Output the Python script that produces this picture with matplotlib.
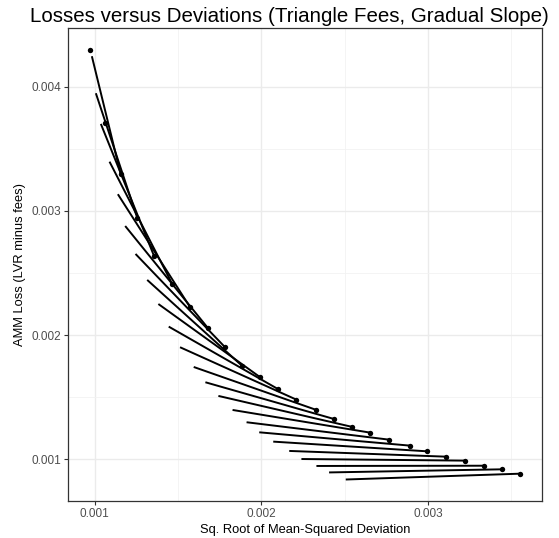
import numpy as np
import matplotlib.pyplot as plt

plt.rcParams["font.family"] = ["Liberation Sans", "DejaVu Sans"]

# points on the curve
dev = [0.000970, 0.001063, 0.001157, 0.001256, 0.001357, 0.001465, 0.001571,
       0.001681, 0.001783, 0.001886, 0.001994, 0.002102, 0.002211, 0.002331,
       0.002437, 0.002547, 0.002655, 0.002766, 0.002890, 0.002994, 0.003106,
       0.003220, 0.003335, 0.003443, 0.003555]
loss = [0.004296, 0.003708, 0.003295, 0.002945, 0.002637, 0.002414, 0.002229,
        0.002055, 0.001902, 0.001751, 0.001660, 0.001564, 0.001480, 0.001397,
        0.001324, 0.001260, 0.001214, 0.001158, 0.001110, 0.001064, 0.001021,
        0.000989, 0.000948, 0.000919, 0.000884]

# segment start points (each ends at the curve point two steps further on)
seg_dev = [0.000984, 0.001008, 0.001038, 0.001090, 0.001140, 0.001184, 0.001246,
           0.001316, 0.001383, 0.001445, 0.001513, 0.001595, 0.001665, 0.001743,
           0.001828, 0.001912, 0.001988, 0.002072, 0.002168, 0.002241, 0.002331,
           0.002407, 0.002507]
seg_loss = [0.004245, 0.003947, 0.003700, 0.003396, 0.003134, 0.002878, 0.002653,
            0.002444, 0.002250, 0.002068, 0.001902, 0.001743, 0.001620, 0.001510,
            0.001397, 0.001298, 0.001217, 0.001142, 0.001067, 0.001002, 0.000946,
            0.000894, 0.000837]

x_ticks = [0.001, 0.002, 0.003]
y_ticks = [0.001, 0.002, 0.003, 0.004]
x_minor = [0.0015, 0.0025, 0.0035]
y_minor = [0.0015, 0.0025, 0.0035]

fig = plt.figure(figsize=(5.59, 5.38), dpi=100)
ax = fig.add_axes([0.1216, 0.0688, 0.8480, 0.8784])

for i in range(len(seg_dev)):
    ax.plot([seg_dev[i], dev[i + 2]], [seg_loss[i], loss[i + 2]],
            color="black", lw=1.4, solid_capstyle="butt", zorder=3)
ax.scatter(dev, loss, s=15, color="black", zorder=4, linewidths=0)

all_x = dev + seg_dev
all_y = loss + seg_loss
xr = max(all_x) - min(all_x)
yr = max(all_y) - min(all_y)
ax.set_xlim(min(all_x) - 0.05 * xr, max(all_x) + 0.05 * xr)
ax.set_ylim(min(all_y) - 0.05 * yr, max(all_y) + 0.05 * yr)

ax.set_xticks(x_ticks)
ax.set_xticklabels(["0.001", "0.002", "0.003"])
ax.set_yticks(y_ticks)
ax.set_yticklabels(["0.001", "0.002", "0.003", "0.004"])
ax.set_xticks(x_minor, minor=True)
ax.set_yticks(y_minor, minor=True)
ax.grid(True, which="major", color="#EBEBEB", lw=1.0, zorder=0)
ax.grid(True, which="minor", color="#F2F2F2", lw=0.6, zorder=0)
ax.set_axisbelow(True)
ax.tick_params(which="major", length=3, width=0.8, color="#333333",
               labelsize=8.5, labelcolor="#4D4D4D", pad=2)
ax.tick_params(which="minor", length=0)
for s in ax.spines.values():
    s.set_color("#333333")
    s.set_linewidth(0.9)

ax.set_xlabel("Sq. Root of Mean-Squared Deviation", fontsize=9.3, labelpad=3)
ax.set_ylabel("AMM Loss (LVR minus fees)", fontsize=9.3, labelpad=4)
fig.text(0.518, 1 - 16 / 538, "Losses versus Deviations (Triangle Fees, Gradual Slope)",
         ha="center", va="center", fontsize=14.8)

fig.savefig("out.png", dpi=100)
